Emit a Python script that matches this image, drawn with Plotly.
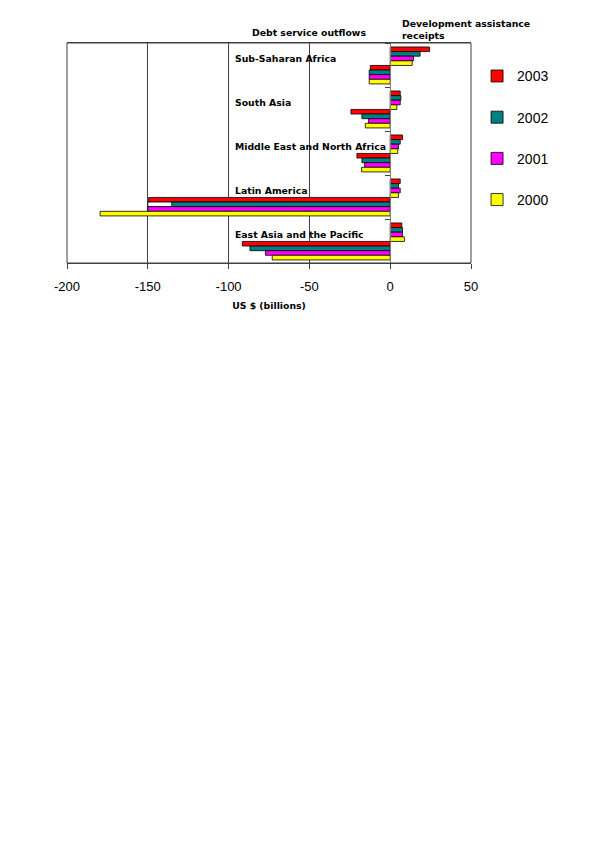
import plotly.graph_objects as go

regions = ["Sub-Saharan Africa", "South Asia", "Middle East and North Africa",
           "Latin America", "East Asia and the Pacific"]
years = ["2003", "2002", "2001", "2000"]

# Development assistance receipts (US$ billions)
receipts_2003 = [24.3, 6.2, 7.6, 6.2, 7.2]
receipts_2002 = [18.5, 6.6, 6.2, 5.1, 7.6]
receipts_2001 = [14.4, 6.2, 5.1, 6.2, 7.6]
receipts_2000 = [13.6, 4.1, 4.7, 5.1, 8.8]

# Debt service outflows (US$ billions)
outflows_2003 = [-12.3, -24.3, -20.6, -149.5, -91.5]
outflows_2002 = [-13.0, -17.5, -17.5, -135.2, -86.8]
outflows_2001 = [-13.0, -13.4, -15.8, -150.0, -77.2]
outflows_2000 = [-13.0, -15.4, -17.7, -179.5, -73.0]

# white outlined segment seen behind the 2002 Latin America outflow bar
outflows_2002_outline = [None, None, None, -150.0, None]

x_tickvals = [-200, -150, -100, -50, 0, 50]
x_ticktext = ["-200", "-150", "-100", "-50", "0", "50"]

colors = {"2003": "#FF0000", "2002": "#008080", "2001": "#FF00FF", "2000": "#FFFF00"}

receipts = [receipts_2003, receipts_2002, receipts_2001, receipts_2000]
outflows = [outflows_2003, outflows_2002, outflows_2001, outflows_2000]

BAR_W = 0.105
START = -0.41

fig = go.Figure()
for i, (yr, vals) in enumerate(zip(years, receipts)):
    fig.add_trace(go.Bar(
        y=regions, x=vals, orientation="h", name=yr,
        marker=dict(color=colors[yr], line=dict(color="black", width=0.8)),
        width=BAR_W, offset=START + i * BAR_W,
        legendgroup=yr, showlegend=True,
    ))
for i, (yr, vals) in enumerate(zip(years, outflows)):
    if yr == "2002":
        fig.add_trace(go.Bar(
            y=regions, x=outflows_2002_outline, orientation="h",
            marker=dict(color="white", line=dict(color="black", width=0.8)),
            width=BAR_W, offset=START + (i + 4) * BAR_W,
            showlegend=False, hoverinfo="skip",
        ))
    fig.add_trace(go.Bar(
        y=regions, x=vals, orientation="h", name=yr,
        marker=dict(color=colors[yr], line=dict(color="black", width=0.8)),
        width=BAR_W, offset=START + (i + 4) * BAR_W,
        legendgroup=yr, showlegend=False,
    ))

label_font = dict(family="DejaVu Sans", size=9.3, color="black")

for r in regions:
    fig.add_annotation(x=-97, y=r, xref="x", yref="y", text="<b>%s</b>" % r,
                       showarrow=False, xanchor="left", yanchor="middle",
                       yshift=7, font=label_font)

fig.add_annotation(x=-50, y=1.047, xref="x", yref="paper",
                   text="<b>Debt service outflows</b>", showarrow=False,
                   xanchor="center", yanchor="middle", font=label_font)
fig.add_annotation(x=0.825, y=1.0, xref="paper", yref="paper",
                   text="<b>Development assistance<br>receipts</b>", showarrow=False,
                   xanchor="left", yanchor="bottom", align="left", font=label_font)

fig.add_shape(type="rect", xref="paper", yref="paper", x0=0, x1=1, y0=0, y1=1,
              line=dict(color="#404040", width=1))

fig.update_layout(
    width=592, height=842, autosize=False,
    margin=dict(l=59, r=129, t=35, b=587, pad=0),
    paper_bgcolor="white", plot_bgcolor="white",
    barmode="overlay",
    showlegend=True,
    legend=dict(x=1.015, y=0.921, xanchor="left", yanchor="top",
                font=dict(family="Liberation Sans", size=14, color="black"),
                tracegroupgap=20, itemwidth=30, bgcolor="rgba(0,0,0,0)"),
    xaxis=dict(range=[-200, 50], tickvals=x_tickvals, ticktext=x_ticktext,
               domain=[0, 1],
               showgrid=True, gridcolor="#404040", gridwidth=1, zeroline=False,
               showline=True, linecolor="#404040", linewidth=1, mirror=True,
               ticks="outside", ticklen=5, tickcolor="#404040",
               ticklabelstandoff=6,
               tickfont=dict(family="Liberation Sans", size=13, color="black"),
               title=dict(text="<b>US $ (billions)</b>", standoff=9,
                          font=dict(family="DejaVu Sans", size=9.3, color="black"))),
    yaxis=dict(type="category", categoryorder="array", categoryarray=regions,
               autorange="reversed", showgrid=False, showticklabels=False,
               ticks="outside", tickson="boundaries", ticklen=5, tickcolor="#404040",
               showline=True, linecolor="#808080", linewidth=1,
               anchor="free", position=0.8, zeroline=False),
)

fig.write_html("out.html")
